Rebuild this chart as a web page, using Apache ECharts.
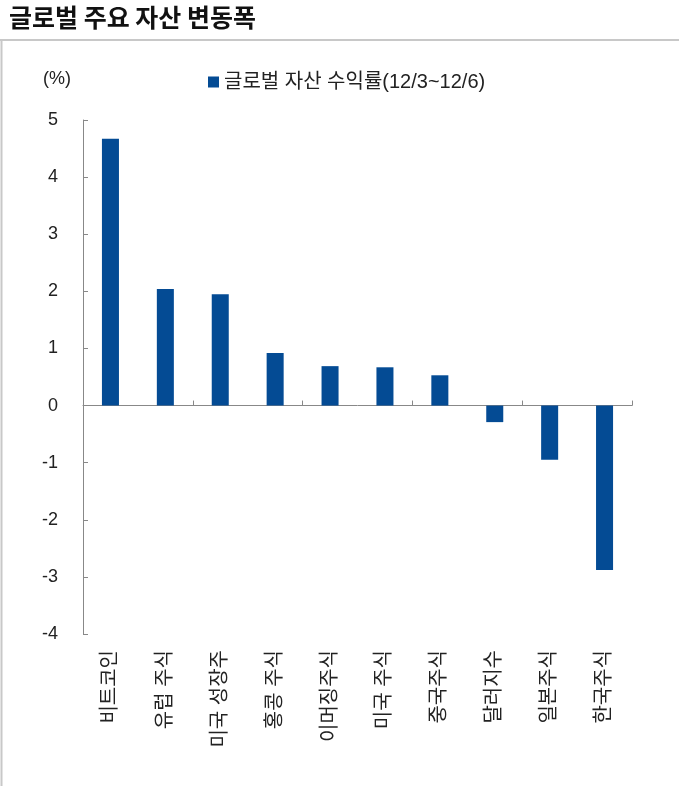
<!DOCTYPE html>
<html><head><meta charset="utf-8">
<script src="https://cdn.jsdelivr.net/npm/echarts@6/dist/echarts.min.js"></script>
<style>html,body{margin:0;padding:0;background:#fff}#c{width:679px;height:786px}</style>
</head><body><div id="c"></div>
<script>
const categories = ['비트코인','유럽 주식','미국 성장주','홍콩 주식','이머징주식','미국 주식','중국주식','달러지수','일본주식','한국주식'];
const returns = [4.67, 2.04, 1.95, 0.92, 0.69, 0.67, 0.53, -0.29, -0.95, -2.88];
const seriesName = '글로벌 자산 수익률(12/3~12/6)';
const titleText = '글로벌 주요 자산 변동폭';
const yTicks = {min: -4, max: 5, interval: 1};

const FONT = '"Liberation Sans", "Noto Sans CJK KR", sans-serif';
const chart = echarts.init(document.getElementById('c'), null, {renderer: 'canvas'});
chart.setOption({
  animation: false,
  backgroundColor: '#fff',
  title: {text: titleText, left: 4, top: 0, textStyle: {fontFamily: '"Noto Sans CJK KR", sans-serif', fontSize: 25, fontWeight: 'bold', color: '#111'}},
  graphic: [
    {type: 'line', shape: {x1: 0, y1: 40, x2: 679, y2: 40}, style: {stroke: '#c8c8c8', lineWidth: 2}},
    {type: 'line', shape: {x1: 1.5, y1: 40, x2: 1.5, y2: 786}, style: {stroke: '#c8c8c8', lineWidth: 2}}
  ],
  legend: {
    left: 203, top: 67, itemWidth: 11, itemHeight: 11,
    icon: 'rect',
    textStyle: {fontFamily: FONT, fontSize: 20, color: '#222'},
    data: [seriesName]
  },
  grid: {left: 83, right: 47, top: 120, bottom: 152, containLabel: false},
  xAxis: [
    {type: 'category', data: categories, position: 'bottom',
     axisLine: {onZero: true, lineStyle: {color: '#888', width: 1}},
     axisTick: {show: true, inside: true, length: 5, lineStyle: {color: '#888'}},
     axisLabel: {show: false}},
    {type: 'category', data: categories, position: 'bottom',
     axisLine: {show: false, onZero: false}, axisTick: {show: false},
     axisLabel: {rotate: 90, margin: 16, fontFamily: FONT, fontSize: 20, color: '#222', interval: 0}}
  ],
  yAxis: {
    type: 'value', min: yTicks.min, max: yTicks.max, interval: yTicks.interval,
    name: '(%)', nameLocation: 'end', nameGap: 32,
    nameTextStyle: {fontFamily: FONT, fontSize: 18, color: '#222', align: 'right', padding: [0, 12, 0, 0]},
    axisLine: {show: true, lineStyle: {color: '#888'}},
    axisTick: {show: true, inside: true, length: 5, lineStyle: {color: '#888'}},
    axisLabel: {margin: 25, fontFamily: FONT, fontSize: 18, color: '#222'},
    splitLine: {show: false}
  },
  series: [{
    name: seriesName, type: 'bar', xAxisIndex: 0, data: returns,
    barWidth: '31%', itemStyle: {color: '#044B94'}
  }]
});
</script></body></html>
